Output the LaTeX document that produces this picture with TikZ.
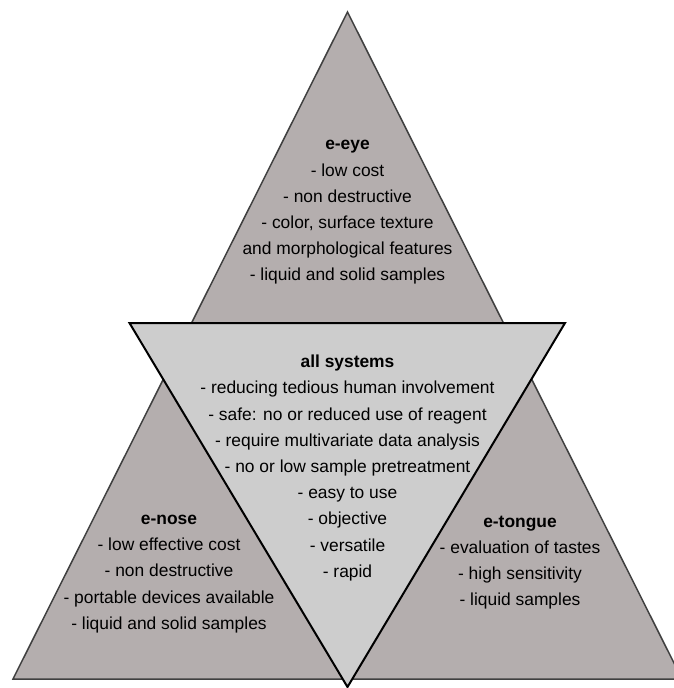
\documentclass[tikz,border=0pt]{standalone}
\usepackage{fontspec}
\setmainfont{Liberation Sans}
\definecolor{outergray}{RGB}{180,174,174}
\definecolor{innergray}{RGB}{205,205,205}
\begin{document}
\begin{tikzpicture}[x=1bp,y=-1bp,
  txt/.style={align=center,inner sep=0pt,font=\fontsize{17.4bp}{26.2bp}\selectfont}]
\clip (0,0) rectangle (674,688);

\coordinate (apex) at (347.5,12);
\coordinate (bl) at (13,679);
\coordinate (br) at (682,679);
\coordinate (il) at (129.5,323);
\coordinate (ir) at (565,323);
\coordinate (ib) at (347.5,687);

\draw[line width=1.5bp, draw=black!75, fill=outergray] (apex) -- (bl) -- (br) -- cycle;
\draw[line width=2bp, fill=innergray] (il) -- (ir) -- (ib) -- cycle;

\node[txt] (eye) at (347.5,212.5) {\textbf{e-eye}\\- low cost\\- non destructive\\- color, surface texture\\and morphological features\\- liquid and solid samples};
\node[txt] (all) at (347.5,468) {\textbf{all systems}\\- reducing tedious human involvement\\- safe: no or reduced use of reagent\\- require multivariate data analysis\\- no or low sample pretreatment\\- easy to use\\- objective\\- versatile\\- rapid};
\node[txt] (nose) at (169,574) {\textbf{e-nose}\\- low effective cost\\- non destructive\\- portable devices available\\- liquid and solid samples};
\node[txt] (tongue) at (520,562.5) {\textbf{e-tongue}\\- evaluation of tastes\\- high sensitivity\\- liquid samples};
\end{tikzpicture}
\end{document}
